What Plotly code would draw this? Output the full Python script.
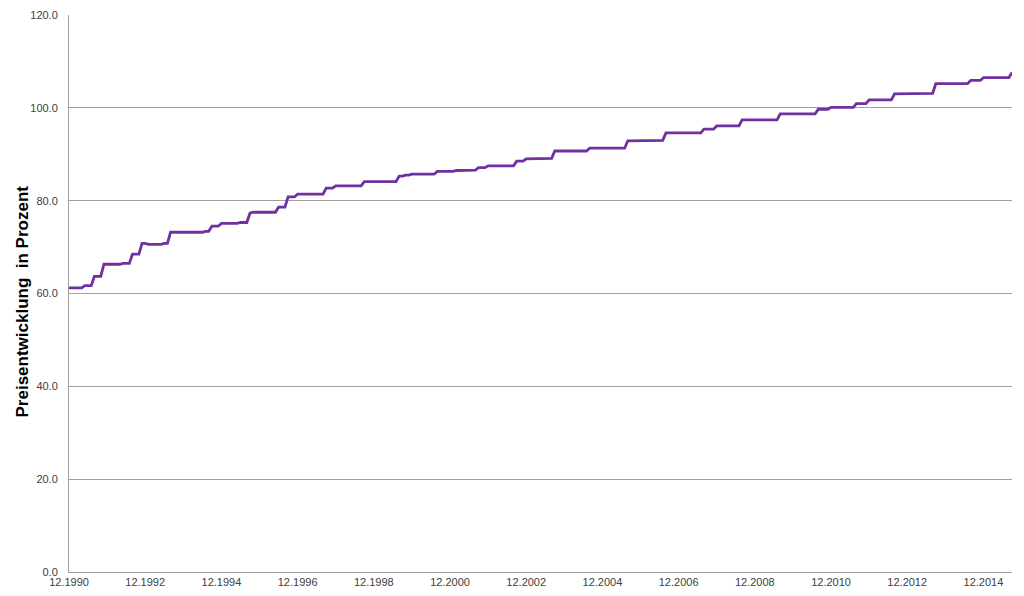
import pandas as pd
import plotly.graph_objects as go

# Monthly price index values (Dec 1990 .. Sep 2015)
v_1990 = [61.2]
v_1991 = [61.2, 61.2, 61.2, 61.2, 61.7, 61.7, 61.7, 63.7, 63.7, 63.7, 66.3, 66.3]
v_1992 = [66.3, 66.3, 66.3, 66.3, 66.5, 66.5, 66.5, 68.5, 68.5, 68.5, 70.8, 70.8]
v_1993 = [70.6, 70.6, 70.6, 70.6, 70.6, 70.8, 70.8, 73.2, 73.2, 73.2, 73.2, 73.2]
v_1994 = [73.2, 73.2, 73.2, 73.2, 73.2, 73.2, 73.4, 73.4, 74.5, 74.5, 74.5, 75.1]
v_1995 = [75.1, 75.1, 75.1, 75.1, 75.1, 75.3, 75.3, 75.3, 77.3, 77.5, 77.5, 77.5]
v_1996 = [77.5, 77.5, 77.5, 77.5, 77.5, 78.6, 78.6, 78.6, 80.8, 80.8, 80.8, 81.4]
v_1997 = [81.4, 81.4, 81.4, 81.4, 81.4, 81.4, 81.4, 81.4, 82.7, 82.7, 82.7, 83.2]
v_1998 = [83.2, 83.2, 83.2, 83.2, 83.2, 83.2, 83.2, 83.2, 84.1, 84.1, 84.1, 84.1]
v_1999 = [84.1, 84.1, 84.1, 84.1, 84.1, 84.1, 84.1, 85.3, 85.3, 85.5, 85.5, 85.7]
v_2000 = [85.7, 85.7, 85.7, 85.7, 85.7, 85.7, 85.7, 86.3, 86.3, 86.3, 86.3, 86.3]
v_2001 = [86.3, 86.5, 86.5, 86.5, 86.6, 86.6, 86.6, 86.6, 87.1, 87.1, 87.1, 87.5]
v_2002 = [87.5, 87.5, 87.5, 87.5, 87.5, 87.5, 87.5, 87.5, 88.5, 88.5, 88.5, 89.0]
v_2003 = [89.0, 89.0, 89.0, 89.0, 89.0, 89.0, 89.1, 89.1, 90.7, 90.7, 90.7, 90.7]
v_2004 = [90.7, 90.7, 90.7, 90.7, 90.7, 90.7, 90.7, 91.3, 91.3, 91.3, 91.3, 91.3]
v_2005 = [91.3, 91.3, 91.3, 91.3, 91.3, 91.3, 91.3, 92.9, 92.9, 92.9, 92.9, 92.9]
v_2006 = [92.9, 93.0, 93.0, 93.0, 93.0, 93.0, 93.0, 94.6, 94.6, 94.6, 94.6, 94.6]
v_2007 = [94.6, 94.6, 94.6, 94.6, 94.6, 94.6, 94.6, 95.4, 95.4, 95.4, 95.4, 96.1]
v_2008 = [96.1, 96.1, 96.1, 96.1, 96.1, 96.1, 96.1, 97.4, 97.4, 97.4, 97.4, 97.4]
v_2009 = [97.4, 97.4, 97.4, 97.4, 97.4, 97.4, 97.4, 98.7, 98.7, 98.7, 98.7, 98.7]
v_2010 = [98.7, 98.7, 98.7, 98.7, 98.7, 98.7, 98.7, 99.7, 99.7, 99.7, 99.7, 100.1]
v_2011 = [100.1, 100.1, 100.1, 100.1, 100.1, 100.1, 100.1, 100.9, 100.9, 100.9, 100.9, 101.7]
v_2012 = [101.7, 101.7, 101.7, 101.7, 101.7, 101.7, 101.7, 103.0, 103.0, 103.0, 103.1, 103.1]
v_2013 = [103.1, 103.1, 103.1, 103.1, 103.1, 103.1, 103.1, 103.1, 105.2, 105.2, 105.2, 105.2]
v_2014 = [105.2, 105.2, 105.2, 105.2, 105.2, 105.2, 105.2, 105.9, 105.9, 105.9, 105.9, 106.5]
v_2015 = [106.5, 106.5, 106.5, 106.5, 106.5, 106.5, 106.5, 106.5, 107.6]

values = (v_1990 + v_1991 + v_1992 + v_1993 + v_1994 + v_1995 + v_1996 + v_1997
          + v_1998 + v_1999 + v_2000 + v_2001 + v_2002 + v_2003 + v_2004 + v_2005
          + v_2006 + v_2007 + v_2008 + v_2009 + v_2010 + v_2011 + v_2012 + v_2013
          + v_2014 + v_2015)

months = [d.strftime("%m.%Y") for d in pd.date_range("1990-12-01", periods=len(values), freq="MS")]

tick_labels = ["12.1990", "12.1992", "12.1994", "12.1996", "12.1998", "12.2000", "12.2002",
               "12.2004", "12.2006", "12.2008", "12.2010", "12.2012", "12.2014"]
y_ticks = [0, 20, 40, 60, 80, 100, 120]
y_title = "Preisentwicklung  in Prozent"

fig = go.Figure()
fig.add_trace(go.Scatter(
    x=months, y=values, mode="lines",
    line=dict(color="#7030A0", width=2.8),
    hoverinfo="x+y", showlegend=False,
))

# The page has an 8px body margin, so the figure is sized to fit inside the window.
fig.update_layout(
    width=1008, height=580,
    margin=dict(l=61, r=4, t=7, b=16, autoexpand=False),
    paper_bgcolor="white", plot_bgcolor="white",
    font=dict(family="Liberation Sans, Arial, sans-serif", size=11, color="#404040"),
    annotations=[dict(
        text="<b>" + y_title + "</b>", textangle=-90,
        xref="paper", yref="paper", x=0, y=0.5,
        xanchor="center", yanchor="middle", xshift=-47, yshift=-8,
        showarrow=False,
        font=dict(size=17, color="black", family="Liberation Sans, Arial, sans-serif"),
    )],
)
fig.update_xaxes(
    type="category", range=[0, len(values) - 1],
    tickmode="array", tickvals=tick_labels, ticktext=tick_labels,
    tickangle=0,
    showgrid=False, showline=True, linecolor="#A0A0A0", linewidth=1,
    ticks="", 
    tickfont=dict(size=11, color="#404040"), zeroline=False,
    automargin=False,
)
fig.update_yaxes(
    range=[0, 120], tickmode="array", tickvals=y_ticks,
    tickformat=".1f",
    showgrid=True, gridcolor="#A0A0A0", gridwidth=1,
    showline=True, linecolor="#A0A0A0", linewidth=1,
    ticks="outside", ticklen=8, tickcolor="rgba(0,0,0,0)",
    tickfont=dict(size=11, color="#404040"), zeroline=False,
    automargin=False,
)

fig.write_html("out.html")
